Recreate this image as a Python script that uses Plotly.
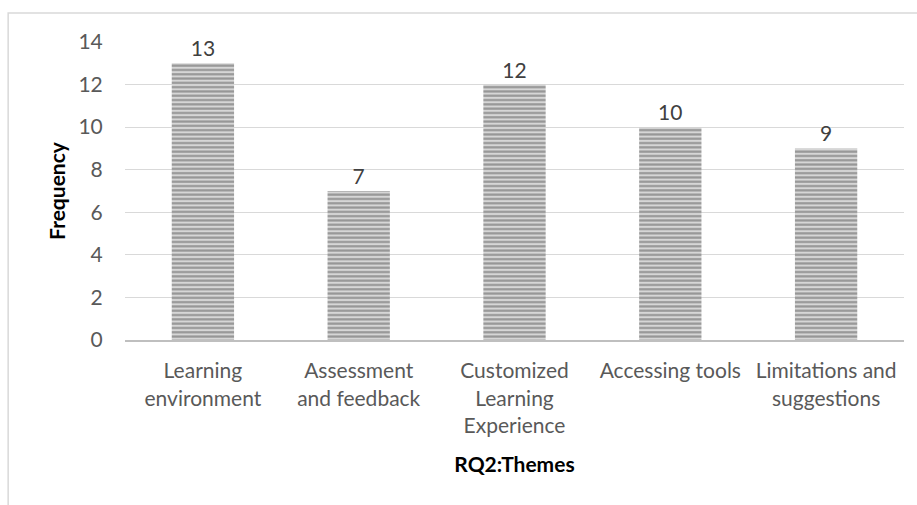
import plotly.graph_objects as go

categories = ["Learning<br>environment", "Assessment<br>and feedback",
              "Customized<br>Learning<br>Experience", "Accessing tools",
              "Limitations and<br>suggestions"]
values = [13, 7, 12, 10, 9]
y_ticks = [0, 2, 4, 6, 8, 10, 12, 14]

FONT = "Lato, 'Open Sans', sans-serif"

fig = go.Figure(go.Bar(
    x=categories, y=values, width=0.4,
    text=[str(v) for v in values], textposition="outside",
    textfont=dict(size=21, color="#404040", family=FONT),
    cliponaxis=False,
    marker=dict(color="#bdbdbd", line=dict(width=0),
                pattern=dict(shape="-", fgcolor="#555555", bgcolor="#d6d6d6",
                             size=4.3, solidity=0.5)),
))

fig.update_layout(
    width=917, height=505,
    margin=dict(l=125, r=13, t=42, b=165),
    plot_bgcolor="white", paper_bgcolor="white",
    font=dict(family=FONT, color="#595959", size=21),
    showlegend=False,
    bargap=0.6,
    xaxis=dict(showgrid=False, showline=True, linecolor="#bfbfbf", linewidth=2,
               tickfont=dict(size=21, color="#595959"), ticks="",
               ticklabelstandoff=11,
               title=dict(text="<b>RQ2:Themes</b>", standoff=22,
                          font=dict(size=21, color="#000000"))),
    yaxis=dict(range=[0, 14], tickvals=y_ticks, showgrid=True,
               gridcolor="#d9d9d9", gridwidth=1.3, zeroline=False,
               ticks="outside", ticklen=17, tickcolor="rgba(0,0,0,0)",
               tickfont=dict(size=21, color="#595959"),
               title=dict(text="<b>Frequency</b>", standoff=7,
                          font=dict(size=21, color="#000000"))),
    shapes=[dict(type="rect", xref="paper", yref="paper",
                 x0=-0.150, x1=1.05, y0=-0.6, y1=1.0973,
                 line=dict(color="#d9d9d9", width=1.5), layer="below")],
)

fig.write_html("out.html")
